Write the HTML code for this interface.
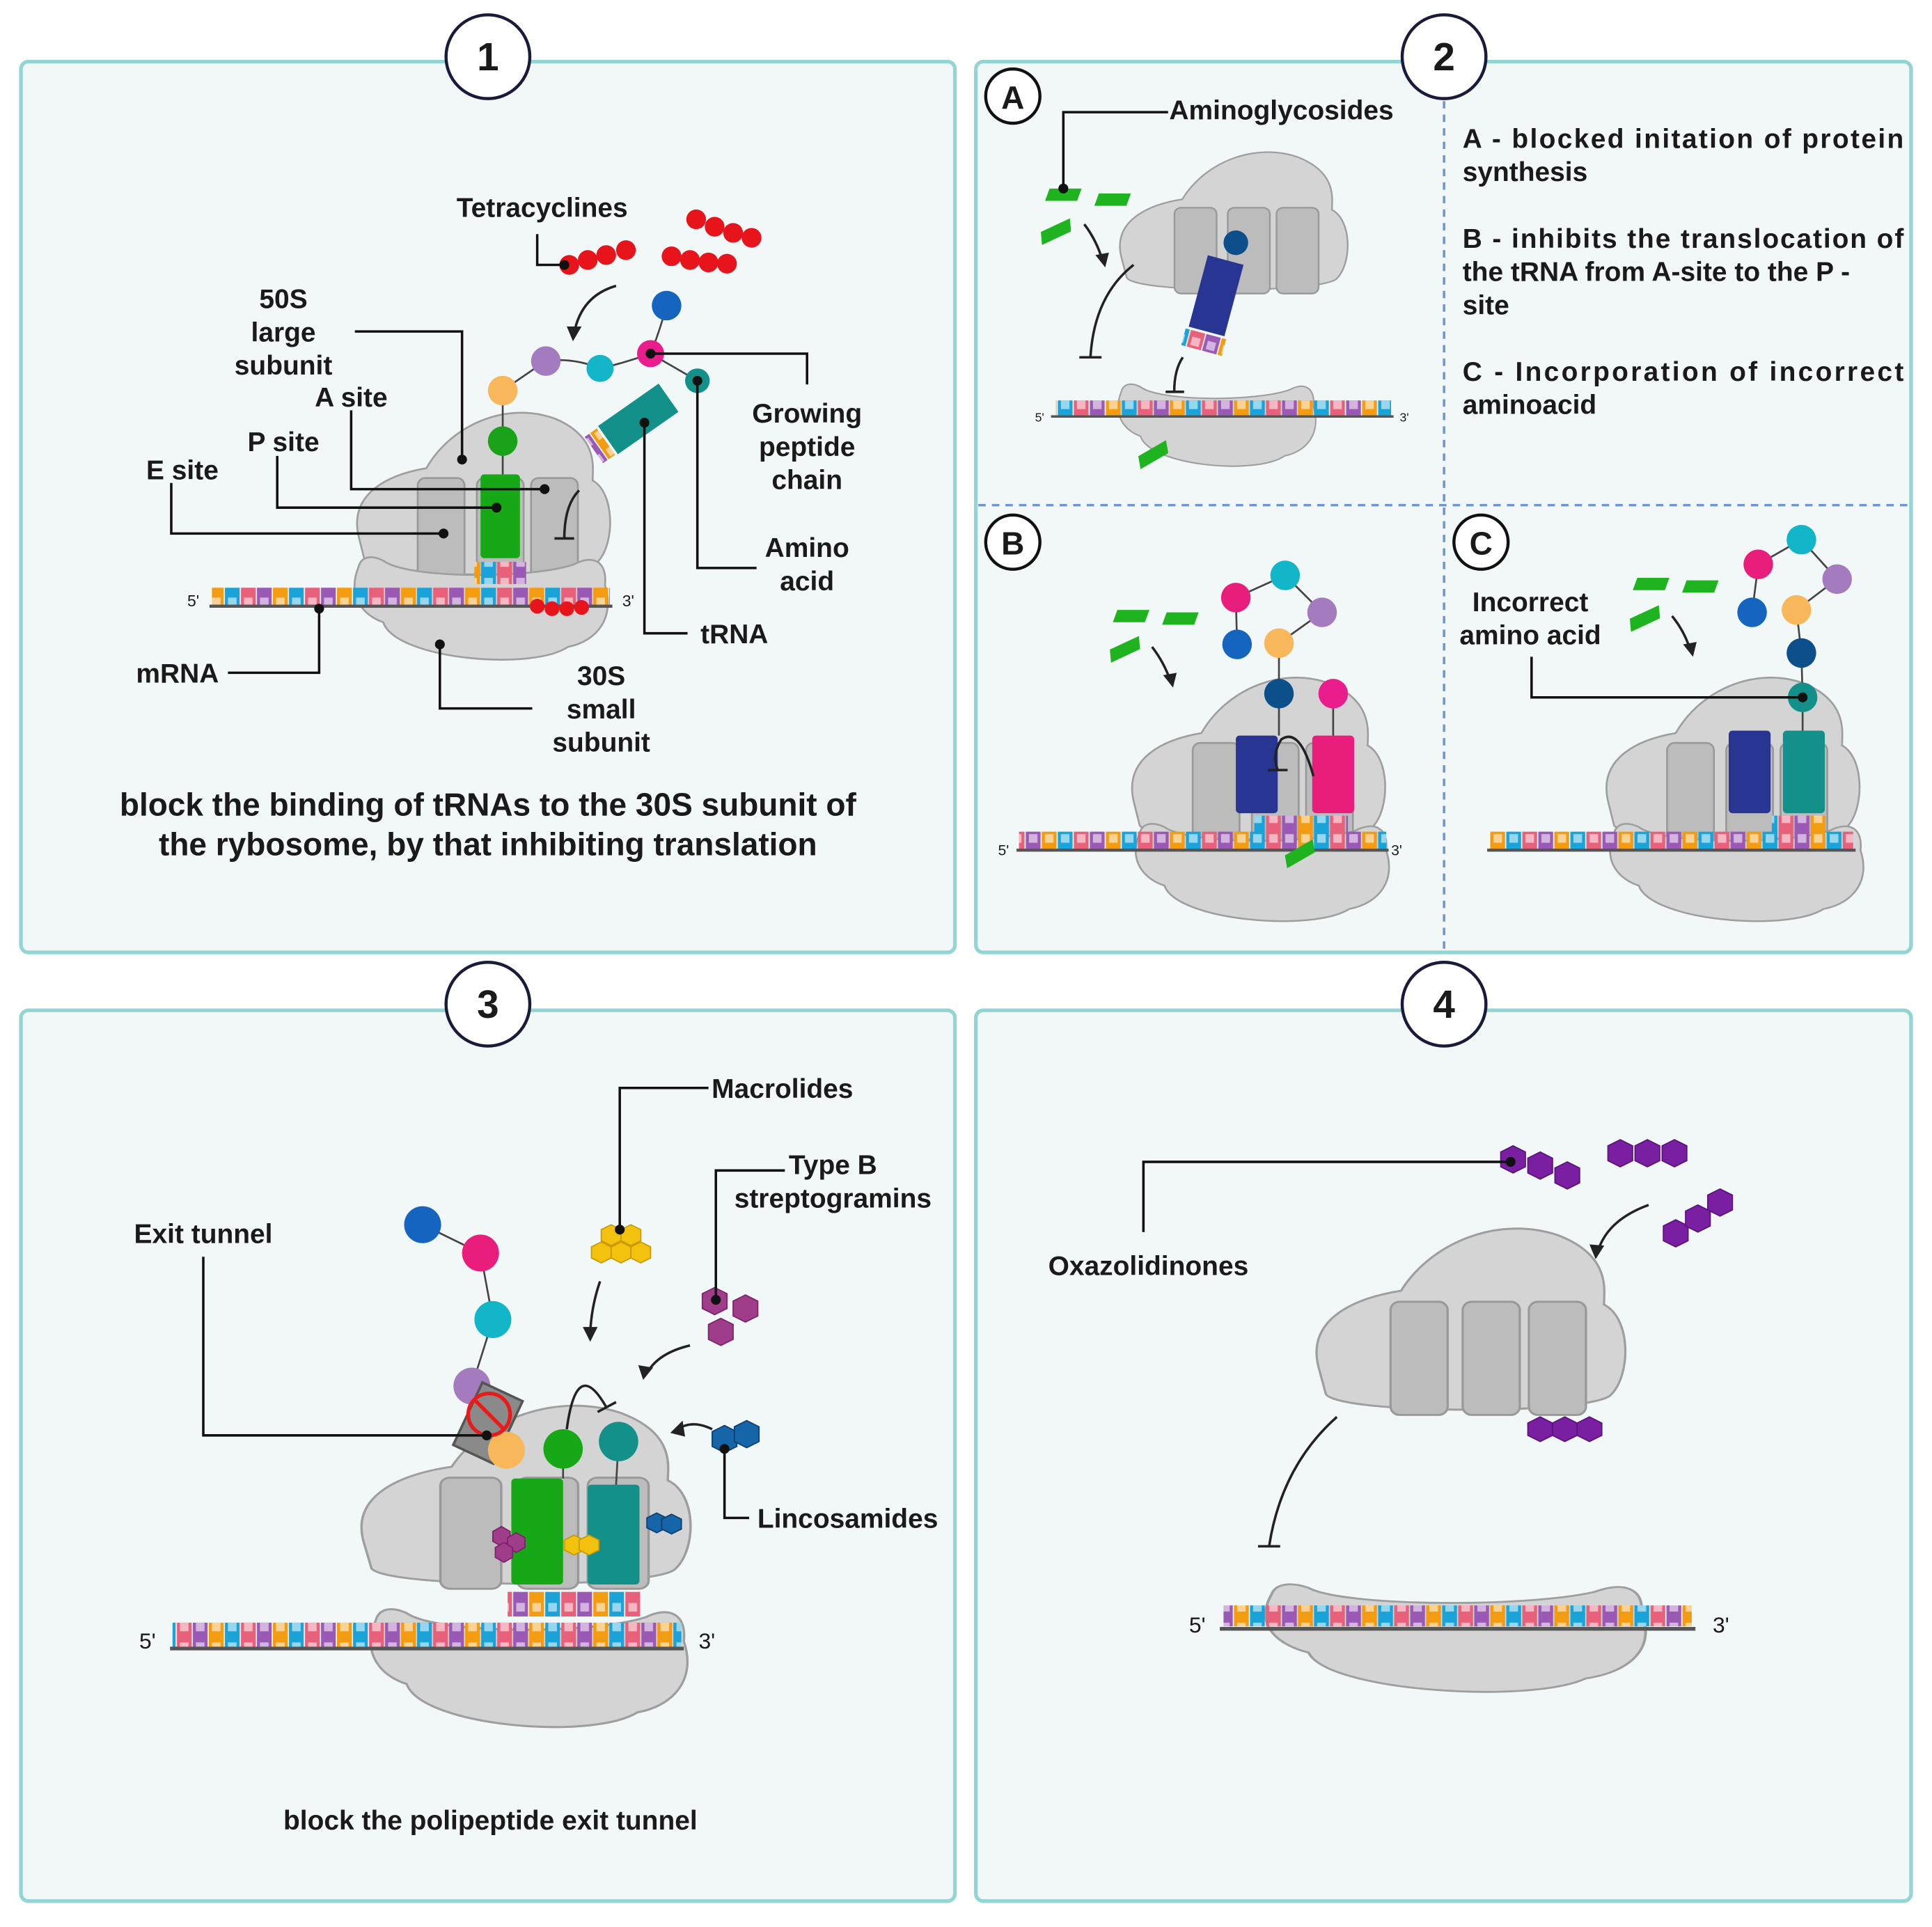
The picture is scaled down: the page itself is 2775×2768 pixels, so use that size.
<!DOCTYPE html>
<html><head><meta charset="utf-8"><style>
html,body{margin:0;padding:0;background:#fff;}
svg{display:block;}
text{font-family:"Liberation Sans",Arial,sans-serif;font-weight:bold;fill:#1a1a1a;}
</style></head><body>
<svg width="2775" height="2768" viewBox="0 0 1568 1564" xmlns="http://www.w3.org/2000/svg">
<defs>
<pattern id="tiles" x="0" y="0" width="52" height="16" patternUnits="userSpaceOnUse">
<rect x="0.5" y="0" width="12" height="16" fill="#9b59b6"/>
<rect x="13.5" y="0" width="12" height="16" fill="#f39c12"/>
<rect x="26.5" y="0" width="12" height="16" fill="#1aa3d9"/>
<rect x="39.5" y="0" width="12" height="16" fill="#e8607a"/>
<rect x="3" y="5" width="7" height="7" fill="#fff" opacity="0.55"/>
<rect x="16" y="5" width="7" height="7" fill="#fff" opacity="0.55"/>
<rect x="29" y="5" width="7" height="7" fill="#fff" opacity="0.55"/>
<rect x="42" y="5" width="7" height="7" fill="#fff" opacity="0.55"/>
</pattern>
<g id="large">
<path d="M-100,10 C-108,-25 -75,-40 -45,-45 C-25,-80 20,-100 60,-85 C95,-70 90,-45 90,-35 C108,-25 108,15 95,30 C85,45 -85,45 -95,30 Z" fill="#d4d4d4" stroke="#9e9e9e" stroke-width="1.5"/>
<rect x="-52" y="-37" width="38" height="82" rx="6" fill="#bcbcbc" stroke="#999" stroke-width="1.5"/>
<rect x="-4" y="-37" width="38" height="82" rx="6" fill="#bcbcbc" stroke="#999" stroke-width="1.5"/>
<rect x="40" y="-37" width="38" height="82" rx="6" fill="#bcbcbc" stroke="#999" stroke-width="1.5"/>
</g>
<g id="small">
<path d="M-100,-20 C-110,5 -95,20 -80,25 C-70,55 40,65 70,45 C95,40 108,20 100,-5 C102,-25 90,-30 75,-22 C40,-10 -60,-10 -80,-25 C-90,-30 -98,-28 -100,-20 Z" fill="#d4d4d4" stroke="#9e9e9e" stroke-width="1.5"/>
</g>
<g id="hexr"><circle r="8" fill="#e8141b"/></g>
<g id="gbar"><rect x="-13" y="-5" width="26" height="10" fill="#1fb41f" transform="skewX(-20)"/></g>
</defs>

<g fill="#f2f8f8" stroke="#93d5d2" stroke-width="3">
<rect x="17" y="50" width="758" height="723" rx="6"/>
<rect x="792" y="50" width="759" height="723" rx="6"/>
<rect x="17" y="820" width="758" height="723" rx="6"/>
<rect x="792" y="820" width="759" height="723" rx="6"/>
</g>
<g fill="#fff" stroke="#1a1a3a" stroke-width="2.5">
<circle cx="396" cy="46" r="34"/><circle cx="1172" cy="46" r="34"/>
<circle cx="396" cy="815" r="34"/><circle cx="1172" cy="815" r="34"/>
</g>
<g font-size="32" text-anchor="middle">
<text x="396" y="57">1</text><text x="1172" y="57">2</text>
<text x="396" y="826">3</text><text x="1172" y="826">4</text>
</g>

<!-- PANEL 1 -->
<use href="#large" transform="translate(391,425)"/>
<use href="#small" transform="translate(391,480)"/>
<rect x="172" y="477" width="323" height="14" fill="url(#tiles)"/>
<line x1="170" y1="492" x2="497" y2="492" stroke="#555" stroke-width="2.5"/>
<text x="152" y="492" font-size="13" fill="#777" style="font-weight:normal">5'</text>
<text x="505" y="492" font-size="13" fill="#777" style="font-weight:normal">3'</text>
<rect x="390" y="385" width="32" height="68" rx="3" fill="#17a817"/>
<rect x="385" y="456" width="42" height="18" fill="url(#tiles)"/>
<g fill="#e8141b"><circle cx="436" cy="492" r="6"/><circle cx="448" cy="494" r="6"/><circle cx="460" cy="494" r="6"/><circle cx="472" cy="493" r="6"/></g>
<g transform="translate(518,340) rotate(-35)">
<rect x="-30" y="-14" width="60" height="28" fill="#14908a"/>
<rect x="-44" y="-13" width="12" height="26" fill="url(#tiles)"/>
</g>
<g stroke="#444" stroke-width="1.5" fill="none">
<path d="M541,248 Q535,270 528,287 Q505,295 487,299 Q465,290 443,293 Q425,305 408,317 L408,358 L408,385"/>
<path d="M528,287 L566,309"/>
</g>
<circle cx="541" cy="248" r="12" fill="#1565c0"/>
<circle cx="528" cy="287" r="11" fill="#e91e8c"/>
<circle cx="487" cy="299" r="11" fill="#13b5c8"/>
<circle cx="443" cy="293" r="12" fill="#a57bc0"/>
<circle cx="408" cy="317" r="12" fill="#f7b75a"/>
<circle cx="408" cy="358" r="12" fill="#1aa31a"/>
<circle cx="566" cy="309" r="10" fill="#14908a"/>
<g>
<use href="#hexr" x="462" y="215"/><use href="#hexr" x="477" y="211"/><use href="#hexr" x="492" y="207"/><use href="#hexr" x="508" y="203"/>
<use href="#hexr" x="545" y="208"/><use href="#hexr" x="560" y="211"/><use href="#hexr" x="575" y="213"/><use href="#hexr" x="590" y="214"/>
<use href="#hexr" x="565" y="178"/><use href="#hexr" x="580" y="184"/><use href="#hexr" x="595" y="189"/><use href="#hexr" x="610" y="193"/>
</g>
<path d="M500,232 Q472,240 466,270" fill="none" stroke="#222" stroke-width="2"/>
<polygon points="460,265 472,265 465,277" fill="#222"/>
<path d="M470,398 Q458,410 458,437 M450,437 L466,437" fill="none" stroke="#222" stroke-width="2"/>
<g stroke="#111" stroke-width="2" fill="none">
<polyline points="436,190 436,215 458,215"/>
<polyline points="288,269 375,269 375,373"/>
<polyline points="285,333 285,397 442,397"/>
<polyline points="225,370 225,412 403,412"/>
<polyline points="139,392 139,433 360,433"/>
<polyline points="185,546 259,546 259,494"/>
<polyline points="432,575 357,575 357,523"/>
<polyline points="558,514 523,514 523,343"/>
<polyline points="614,461 566,461 566,309"/>
<polyline points="655,312 655,287 528,287"/>
</g>
<g fill="#111">
<circle cx="458" cy="215" r="4"/><circle cx="375" cy="373" r="4"/><circle cx="442" cy="397" r="4"/>
<circle cx="403" cy="412" r="4"/><circle cx="360" cy="433" r="4"/><circle cx="259" cy="494" r="4"/>
<circle cx="357" cy="523" r="4"/><circle cx="523" cy="343" r="4"/><circle cx="566" cy="309" r="4"/><circle cx="528" cy="287" r="4"/>
</g>
<g font-size="22" text-anchor="middle">
<text x="440" y="176">Tetracyclines</text>
<text x="230" y="250">50S</text><text x="230" y="277">large</text><text x="230" y="304">subunit</text>
<text x="285" y="330">A site</text><text x="230" y="366">P site</text><text x="148" y="389">E site</text>
<text x="655" y="343">Growing</text><text x="655" y="370">peptide</text><text x="655" y="397">chain</text>
<text x="655" y="452">Amino</text><text x="655" y="479">acid</text>
<text x="596" y="522">tRNA</text><text x="144" y="554">mRNA</text>
<text x="488" y="556">30S</text><text x="488" y="583">small</text><text x="488" y="610">subunit</text>
<text x="396" y="662" font-size="26">block the binding of tRNAs to the 30S subunit of</text>
<text x="396" y="694" font-size="26">the rybosome, by that inhibiting translation</text>
</g>

<!-- PANEL 2 -->
<g stroke="#6f95d3" stroke-width="2" stroke-dasharray="6,5">
<line x1="1172" y1="82" x2="1172" y2="772"/>
<line x1="794" y1="410" x2="1550" y2="410"/>
</g>
<g fill="#fff" stroke="#111" stroke-width="2.5">
<circle cx="822" cy="78" r="22"/><circle cx="822" cy="440" r="22"/><circle cx="1202" cy="440" r="22"/>
</g>
<g font-size="26" text-anchor="middle"><text x="822" y="88">A</text><text x="822" y="450">B</text><text x="1202" y="450">C</text></g>
<g font-size="22">
<text x="1187" y="120" textLength="358" lengthAdjust="spacing">A - blocked initation of protein</text>
<text x="1187" y="147">synthesis</text>
<text x="1187" y="201" textLength="358" lengthAdjust="spacing">B - inhibits the translocation of</text>
<text x="1187" y="228">the tRNA from A-site to the P -</text>
<text x="1187" y="255"> site</text>
<text x="1187" y="309" textLength="358" lengthAdjust="spacing">C - Incorporation of incorrect</text>
<text x="1187" y="336">aminoacid</text>
</g>
<use href="#large" transform="translate(1000,200) scale(0.9,0.85)"/>
<use href="#small" transform="translate(988,334) scale(0.78,0.8)"/>
<rect x="857" y="325" width="272" height="12" fill="url(#tiles)"/>
<line x1="853" y1="338" x2="1131" y2="338" stroke="#555" stroke-width="2"/>
<text x="840" y="342" font-size="10" fill="#777" style="font-weight:normal">5'</text>
<text x="1136" y="342" font-size="10" fill="#777" style="font-weight:normal">3'</text>
<g transform="translate(987,240) rotate(15)">
<rect x="-15" y="-30" width="30" height="60" fill="#283593"/>
<rect x="-17" y="32" width="34" height="14" fill="url(#tiles)"/>
</g>
<circle cx="1003" cy="197" r="10" fill="#0d4f8b"/>
<use href="#gbar" x="863" y="158"/><use href="#gbar" x="903" y="162"/><use href="#gbar" x="857" y="188" transform="rotate(-25 857 188)"/><use href="#gbar" x="936" y="369" transform="rotate(-30 936 369)"/>
<polyline points="948,91 863,91 863,153" fill="none" stroke="#111" stroke-width="2"/>
<circle cx="863" cy="153" r="4" fill="#111"/>
<text x="1040" y="97" font-size="22" text-anchor="middle">Aminoglycosides</text>
<path d="M880,182 Q890,195 895,212" fill="none" stroke="#222" stroke-width="2"/><polygon points="889,207 900,205 897,217" fill="#222"/>
<path d="M920,215 Q888,240 885,290 M876,290 L894,290" fill="none" stroke="#222" stroke-width="2"/>
<path d="M960,290 Q953,300 953,318 M946,318 L961,318" fill="none" stroke="#222" stroke-width="2"/>
<!-- B -->
<use href="#large" transform="translate(1020,640)"/>
<use href="#small" transform="translate(1025,695) scale(1,0.95)"/>
<rect x="1003" y="597" width="34" height="63" rx="3" fill="#283593"/>
<rect x="1065" y="597" width="34" height="63" rx="3" fill="#e91e7c"/>
<rect x="1018" y="662" width="76" height="14" fill="url(#tiles)"/>
<rect x="827" y="675" width="298" height="14" fill="url(#tiles)"/>
<line x1="825" y1="690" x2="1127" y2="690" stroke="#555" stroke-width="2.5"/>
<text x="810" y="694" font-size="12" fill="#777" style="font-weight:normal">5'</text>
<text x="1129" y="694" font-size="12" fill="#777" style="font-weight:normal">3'</text>
<g stroke="#444" stroke-width="1.5" fill="none"><path d="M1004,523 L1003,485 L1043,467 L1073,497 L1038,522 L1038,563 L1038,597 M1082,563 L1082,597"/></g>
<circle cx="1004" cy="523" r="12" fill="#1565c0"/><circle cx="1003" cy="485" r="12" fill="#e91e7c"/>
<circle cx="1043" cy="467" r="12" fill="#13b5c8"/><circle cx="1073" cy="497" r="12" fill="#a57bc0"/>
<circle cx="1038" cy="522" r="12" fill="#f7b75a"/><circle cx="1038" cy="563" r="12" fill="#0d4f8b"/>
<circle cx="1082" cy="563" r="12" fill="#e91e8c"/>
<path d="M1066,630 Q1055,590 1040,600 Q1032,612 1037,625 M1029,625 L1045,625" fill="none" stroke="#222" stroke-width="2"/>
<use href="#gbar" x="918" y="500"/><use href="#gbar" x="958" y="502"/><use href="#gbar" x="913" y="527" transform="rotate(-25 913 527)"/><use href="#gbar" x="1055" y="693" transform="rotate(-30 1055 693)"/>
<path d="M935,525 Q945,538 950,553" fill="none" stroke="#222" stroke-width="2"/><polygon points="944,548 955,546 952,558" fill="#222"/>
<!-- C -->
<use href="#large" transform="translate(1405,640)"/>
<use href="#small" transform="translate(1410,695) scale(1,0.95)"/>
<rect x="1403" y="593" width="34" height="67" rx="3" fill="#283593"/>
<rect x="1447" y="593" width="34" height="67" rx="3" fill="#14908a"/>
<rect x="1438" y="662" width="44" height="14" fill="url(#tiles)"/>
<rect x="1209" y="675" width="295" height="14" fill="url(#tiles)"/>
<line x1="1207" y1="690" x2="1506" y2="690" stroke="#555" stroke-width="2.5"/>
<g stroke="#444" stroke-width="1.5" fill="none"><path d="M1422,497 L1427,458 L1462,438 L1491,470 L1458,495 L1462,530 L1463,566 L1463,593"/></g>
<circle cx="1422" cy="497" r="12" fill="#1565c0"/><circle cx="1427" cy="458" r="12" fill="#e91e7c"/>
<circle cx="1462" cy="438" r="12" fill="#13b5c8"/><circle cx="1491" cy="470" r="12" fill="#a57bc0"/>
<circle cx="1458" cy="495" r="12" fill="#f7b75a"/><circle cx="1462" cy="530" r="12" fill="#0d4f8b"/>
<circle cx="1463" cy="566" r="12" fill="#14908a"/>
<use href="#gbar" x="1340" y="474"/><use href="#gbar" x="1380" y="476"/><use href="#gbar" x="1335" y="502" transform="rotate(-25 1335 502)"/>
<path d="M1357,500 Q1367,512 1372,528" fill="none" stroke="#222" stroke-width="2"/><polygon points="1366,523 1377,521 1374,533" fill="#222"/>
<polyline points="1243,533 1243,566 1463,566" fill="none" stroke="#111" stroke-width="2"/>
<circle cx="1463" cy="566" r="4" fill="#111"/>
<text x="1242" y="496" font-size="22" text-anchor="middle">Incorrect</text>
<text x="1242" y="523" font-size="22" text-anchor="middle">amino acid</text>

<!-- PANEL 3 -->
<use href="#large" transform="translate(425,1240) scale(1.3,1.1)"/>
<use href="#small" transform="translate(430,1338) scale(1.25,1.15)"/>
<rect x="415" y="1200" width="42" height="86" rx="3" fill="#17a817"/>
<rect x="477" y="1205" width="42" height="81" rx="3" fill="#14908a"/>
<rect x="412" y="1292" width="108" height="20" fill="url(#tiles)"/>
<rect x="140" y="1317" width="413" height="20" fill="url(#tiles)"/>
<line x1="138" y1="1338" x2="555" y2="1338" stroke="#555" stroke-width="3"/>
<text x="113" y="1338" font-size="18" fill="#444" style="font-weight:normal">5'</text>
<text x="567" y="1338" font-size="18" fill="#444" style="font-weight:normal">3'</text>
<g stroke="#444" stroke-width="1.5" fill="none"><path d="M343,994 L390,1017 L400,1071 L383,1125 M457,1176 L457,1200 M502,1170 L500,1205"/></g>
<circle cx="343" cy="994" r="15" fill="#1565c0"/><circle cx="390" cy="1017" r="15" fill="#e91e7c"/>
<circle cx="400" cy="1071" r="15" fill="#13b5c8"/><circle cx="383" cy="1125" r="15" fill="#a57bc0"/>
<g transform="translate(396,1155) rotate(25)"><rect x="-18" y="-28" width="36" height="56" fill="#8a8a8a" stroke="#555" stroke-width="2"/></g>
<circle cx="411" cy="1177" r="15" fill="#f7b75a"/>
<circle cx="397" cy="1148" r="17" fill="none" stroke="#e81b1b" stroke-width="3"/>
<line x1="385" y1="1136" x2="409" y2="1160" stroke="#e81b1b" stroke-width="3"/>
<circle cx="457" cy="1176" r="16" fill="#17a817"/><circle cx="502" cy="1170" r="16" fill="#14908a"/>
<path d="M460,1160 Q468,1100 492,1142 M485,1146 L500,1138" fill="none" stroke="#222" stroke-width="2"/>
<g fill="#f2c20f" stroke="#c99a00" stroke-width="1">
<polygon points="488,998 496,994 504,998 504,1007 496,1011 488,1007"/>
<polygon points="504,998 512,994 520,998 520,1007 512,1011 504,1007"/>
<polygon points="480,1012 488,1008 496,1012 496,1021 488,1025 480,1021"/>
<polygon points="496,1012 504,1008 512,1012 512,1021 504,1025 496,1021"/>
<polygon points="512,1012 520,1008 528,1012 528,1021 520,1025 512,1021"/>
<polygon points="458,1250 466,1246 474,1250 474,1258 466,1262 458,1258"/>
<polygon points="470,1250 478,1246 486,1250 486,1258 478,1262 470,1258"/>
</g>
<g fill="#a03d8a" stroke="#7a2468">
<polygon points="570,1050 580,1045 590,1050 590,1062 580,1067 570,1062"/>
<polygon points="595,1056 605,1051 615,1056 615,1068 605,1073 595,1068"/>
<polygon points="575,1075 585,1070 595,1075 595,1087 585,1092 575,1087"/>
<polygon points="400,1243 407,1239 414,1243 414,1251 407,1255 400,1251"/>
<polygon points="412,1248 419,1244 426,1248 426,1256 419,1260 412,1256"/>
<polygon points="402,1256 409,1252 416,1256 416,1264 409,1268 402,1264"/>
</g>
<g fill="#1565a8" stroke="#0c3f70">
<polygon points="578,1162 588,1157 598,1162 598,1174 588,1179 578,1174"/>
<polygon points="596,1158 606,1153 616,1158 616,1170 606,1175 596,1170"/>
<polygon points="525,1232 533,1228 541,1232 541,1240 533,1244 525,1240"/>
<polygon points="537,1233 545,1229 553,1233 553,1241 545,1245 537,1241"/>
</g>
<path d="M487,1040 Q480,1060 479,1082" fill="none" stroke="#222" stroke-width="2"/><polygon points="473,1077 485,1077 479,1089" fill="#222"/>
<path d="M560,1092 Q535,1098 526,1113" fill="none" stroke="#222" stroke-width="2"/><polygon points="518,1108 530,1110 522,1120" fill="#222"/>
<path d="M578,1160 Q562,1152 550,1160" fill="none" stroke="#222" stroke-width="2"/><polygon points="554,1153 556,1166 544,1163" fill="#222"/>
<g stroke="#111" stroke-width="2" fill="none">
<polyline points="575,883 503,883 503,998"/>
<polyline points="637,950 581,950 581,1055"/>
<polyline points="608,1232 588,1232 588,1176"/>
<polyline points="165,1020 165,1165 395,1165"/>
</g>
<g fill="#111"><circle cx="503" cy="998" r="4"/><circle cx="581" cy="1055" r="4"/><circle cx="588" cy="1176" r="4"/><circle cx="395" cy="1165" r="4"/></g>
<g font-size="22" text-anchor="middle">
<text x="635" y="891">Macrolides</text>
<text x="676" y="953">Type B</text><text x="676" y="980">streptogramins</text>
<text x="688" y="1240">Lincosamides</text>
<text x="165" y="1009">Exit tunnel</text>
<text x="398" y="1485">block the polipeptide exit tunnel</text>
</g>

<!-- PANEL 4 -->
<use href="#large" transform="translate(1192,1098) scale(1.22,1.12)"/>
<use href="#small" transform="translate(1182,1315) scale(1.5,1.05)"/>
<rect x="993" y="1303" width="380" height="17" fill="url(#tiles)"/>
<line x1="990" y1="1322" x2="1376" y2="1322" stroke="#555" stroke-width="3"/>
<text x="965" y="1325" font-size="18" fill="#444" style="font-weight:normal">5'</text>
<text x="1390" y="1325" font-size="18" fill="#444" style="font-weight:normal">3'</text>
<g fill="#7b1fa2" stroke="#5a137a">
<polygon points="1218,935 1228,930 1238,935 1238,947 1228,952 1218,947"/>
<polygon points="1240,940 1250,935 1260,940 1260,952 1250,957 1240,952"/>
<polygon points="1262,948 1272,943 1282,948 1282,960 1272,965 1262,960"/>
<polygon points="1305,930 1315,925 1325,930 1325,942 1315,947 1305,942"/>
<polygon points="1327,930 1337,925 1347,930 1347,942 1337,947 1327,942"/>
<polygon points="1349,930 1359,925 1369,930 1369,942 1359,947 1349,942"/>
<polygon points="1350,995 1360,990 1370,995 1370,1007 1360,1012 1350,1007"/>
<polygon points="1368,983 1378,978 1388,983 1388,995 1378,1000 1368,995"/>
<polygon points="1386,970 1396,965 1406,970 1406,982 1396,987 1386,982"/>
<polygon points="1240,1155 1250,1150 1260,1155 1260,1165 1250,1170 1240,1165"/>
<polygon points="1260,1155 1270,1150 1280,1155 1280,1165 1270,1170 1260,1165"/>
<polygon points="1280,1155 1290,1150 1300,1155 1300,1165 1290,1170 1280,1165"/>
</g>
<path d="M1338,978 Q1305,990 1297,1015" fill="none" stroke="#222" stroke-width="2"/><polygon points="1290,1010 1302,1011 1295,1022" fill="#222"/>
<path d="M1085,1150 Q1040,1190 1030,1255 M1021,1255 L1039,1255" fill="none" stroke="#222" stroke-width="2"/>
<polyline points="928,1000 928,943 1226,943" fill="none" stroke="#111" stroke-width="2"/>
<circle cx="1226" cy="943" r="4" fill="#111"/>
<text x="932" y="1035" font-size="22" text-anchor="middle">Oxazolidinones</text>
</svg>
</body></html>
